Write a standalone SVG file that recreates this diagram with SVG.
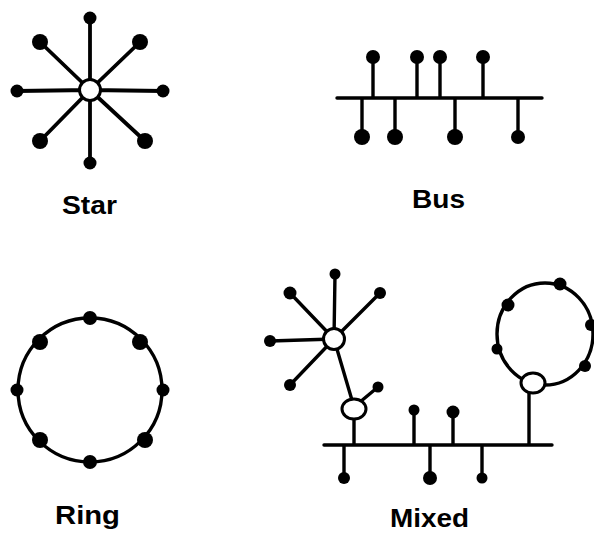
<svg xmlns="http://www.w3.org/2000/svg" width="594" height="533" viewBox="0 0 594 533">
<style>
.ln{stroke:#000;stroke-width:3.4;fill:none;stroke-linecap:round}
.dot{fill:#000}
.hub{fill:#fff;stroke:#000;stroke-width:3}
.lbl{font-family:"Liberation Sans",Arial,sans-serif;font-weight:bold;font-size:25px;fill:#000}
</style>
<rect width="594" height="533" fill="#fff"/>
<g id="connectors">
  <!-- star -->
  <path class="ln" style="stroke-width:3.8" d="M90 90L90 18M90 90L40 42M90 90L140 42M90 90L17 91M90 90L163 91M90 90L40 141M90 90L145 141M90 90L90 163"/>
  <!-- bus -->
  <path class="ln" d="M337 98H542M373 98V57M417 98V57M440 98V57M483 98V57M362 98V137M395 98V137M455 98V137M518 98V137"/>
  <!-- ring -->
  <circle class="ln" cx="90" cy="390" r="72"/>
  <!-- mixed -->
  <path class="ln" d="M334 339L335 274M334 339L290 293M334 339L380 293M334 339L270 341M334 339L290 385M334 339L354 407M354 407L378 387M354 407V445M324 445H552M414 445V410M453 445V412M529 445V383M344 445V478M430 445V478M482 445V478"/>
  <ellipse class="ln" cx="545" cy="334" rx="48" ry="51"/>
</g>
<g id="star">
  <circle class="dot" cx="90" cy="18" r="6.5"/>
  <circle class="dot" cx="40" cy="42" r="8"/>
  <circle class="dot" cx="140" cy="42" r="8"/>
  <circle class="dot" cx="17" cy="91" r="6.5"/>
  <circle class="dot" cx="163" cy="91" r="6.5"/>
  <circle class="dot" cx="40" cy="141" r="8"/>
  <circle class="dot" cx="145" cy="141" r="8"/>
  <circle class="dot" cx="90" cy="163" r="6.5"/>
  <circle class="hub" cx="90" cy="90" r="10.5"/>
</g>
<g id="bus">
  <circle class="dot" cx="373" cy="57" r="7"/>
  <circle class="dot" cx="417" cy="57" r="7"/>
  <circle class="dot" cx="440" cy="57" r="7"/>
  <circle class="dot" cx="483" cy="57" r="7"/>
  <circle class="dot" cx="362" cy="137" r="8"/>
  <circle class="dot" cx="395" cy="137" r="8"/>
  <circle class="dot" cx="455" cy="137" r="8"/>
  <circle class="dot" cx="518" cy="137" r="7"/>
</g>
<g id="ring">
  <circle class="dot" cx="90" cy="318" r="7"/>
  <circle class="dot" cx="40" cy="342" r="8"/>
  <circle class="dot" cx="140" cy="342" r="8"/>
  <circle class="dot" cx="17" cy="390" r="6.5"/>
  <circle class="dot" cx="163" cy="390" r="6.5"/>
  <circle class="dot" cx="40" cy="440" r="8"/>
  <circle class="dot" cx="145" cy="440" r="8"/>
  <circle class="dot" cx="90" cy="462" r="7"/>
</g>
<g id="mixed">
  <circle class="dot" cx="335" cy="274" r="5.5"/>
  <circle class="dot" cx="290" cy="293" r="6.5"/>
  <circle class="dot" cx="380" cy="293" r="6"/>
  <circle class="dot" cx="270" cy="341" r="6"/>
  <circle class="dot" cx="290" cy="385" r="6"/>
  <circle class="dot" cx="378" cy="387" r="5.5"/>
  <circle class="hub" cx="334" cy="339" r="10.5"/>
  <ellipse class="hub" cx="354" cy="409" rx="12" ry="10"/>
  <circle class="dot" cx="414" cy="410" r="5.5"/>
  <circle class="dot" cx="453" cy="412" r="6.5"/>
  <circle class="dot" cx="344" cy="478" r="6"/>
  <circle class="dot" cx="430" cy="478" r="7"/>
  <circle class="dot" cx="482" cy="478" r="5.5"/>
  <circle class="dot" cx="560" cy="284" r="6.5"/>
  <circle class="dot" cx="508" cy="305" r="6.5"/>
  <circle class="dot" cx="591" cy="325" r="6"/>
  <circle class="dot" cx="497" cy="349" r="5.5"/>
  <circle class="dot" cx="585" cy="366" r="6"/>
  <ellipse class="hub" cx="533" cy="383" rx="12" ry="10"/>
</g>
<g id="labels">
  <text class="lbl" x="62" y="214" font-size="26" textLength="55" lengthAdjust="spacingAndGlyphs">Star</text>
  <text class="lbl" x="412" y="208" textLength="53" lengthAdjust="spacingAndGlyphs">Bus</text>
  <text class="lbl" x="55" y="524" textLength="65" lengthAdjust="spacingAndGlyphs">Ring</text>
  <text class="lbl" x="390" y="527" font-size="25" textLength="79" lengthAdjust="spacingAndGlyphs">Mixed</text>
</g>
</svg>
